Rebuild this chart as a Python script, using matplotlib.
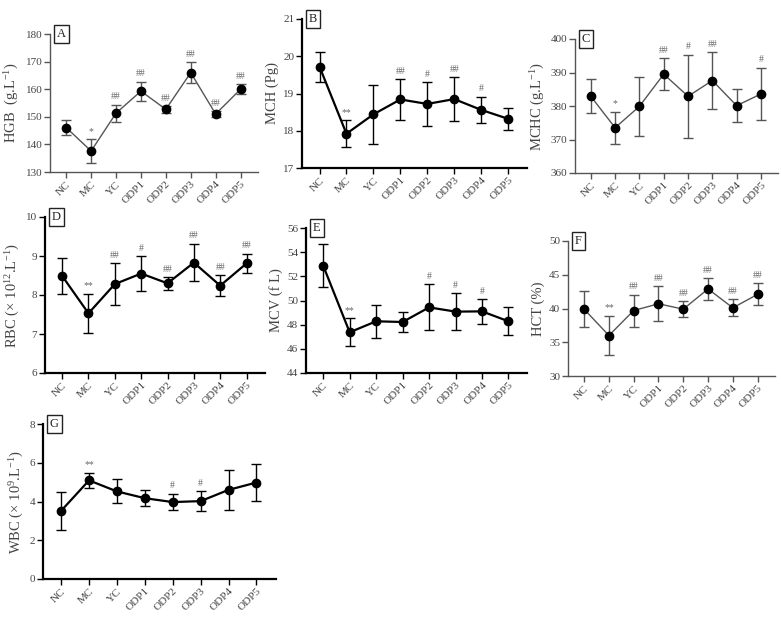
### Import Standard Libraries
import numpy as np
import matplotlib
matplotlib.use("Agg")
import matplotlib.pyplot as plt

### Fonts (Times-like serif)
plt.rcParams["font.family"] = ["Liberation Serif", "DejaVu Serif"]
plt.rcParams["mathtext.fontset"] = "custom"
plt.rcParams["mathtext.rm"] = "Liberation Serif"
plt.rcParams["mathtext.it"] = "Liberation Serif:italic"

## Step 1: Data

groups = ["NC", "MC", "YC", "ODP1", "ODP2", "ODP3", "ODP4", "ODP5"]

hgb_mean = [146.1, 137.6, 151.3, 159.3, 152.7, 166.0, 151.0, 160.0]
hgb_sd = [2.6, 4.3, 3.1, 3.4, 1.2, 3.8, 1.0, 1.8]
hgb_sig = ["", "*", "##", "##", "##", "##", "##", "##"]

mch_mean = [19.72, 17.92, 18.44, 18.84, 18.72, 18.85, 18.56, 18.32]
mch_sd = [0.40, 0.36, 0.80, 0.54, 0.58, 0.59, 0.35, 0.30]
mch_sig = ["", "**", "", "##", "#", "##", "#", ""]

mchc_mean = [382.9, 373.5, 379.9, 389.5, 382.9, 387.6, 380.1, 383.6]
mchc_sd = [5.1, 4.7, 8.8, 4.8, 12.4, 8.4, 5.0, 7.8]
mchc_sig = ["", "*", "", "##", "#", "##", "", "#"]

rbc_mean = [8.49, 7.53, 8.28, 8.55, 8.30, 8.83, 8.24, 8.81]
rbc_sd = [0.46, 0.50, 0.53, 0.45, 0.16, 0.48, 0.27, 0.25]
rbc_sig = ["", "**", "##", "#", "##", "##", "##", "##"]

mcv_mean = [52.88, 47.37, 48.28, 48.22, 49.43, 49.08, 49.10, 48.28]
mcv_sd = [1.78, 1.15, 1.38, 0.86, 1.90, 1.50, 1.02, 1.16]
mcv_sig = ["", "**", "", "", "#", "#", "#", ""]

hct_mean = [39.9, 36.0, 39.7, 40.7, 39.9, 42.9, 40.1, 42.1]
hct_sd = [2.67, 2.90, 2.37, 2.57, 1.16, 1.60, 1.24, 1.65]
hct_sig = ["", "**", "##", "##", "##", "##", "##", "##"]

wbc_mean = [3.52, 5.09, 4.52, 4.17, 3.97, 4.02, 4.60, 4.98]
wbc_sd = [0.97, 0.39, 0.62, 0.40, 0.43, 0.52, 1.02, 0.94]
wbc_sig = ["", "**", "", "", "#", "#", "", ""]

## Step 2: Figure layout (pixel boxes: left, top, right, bottom)

W, H = 781, 621
fig = plt.figure(figsize=(W / 100, H / 100), dpi=100)
fig.patch.set_facecolor("white")


def draw_panel(box, letter, mean, sd, sig, ylim, yticks, ylabel, dark):
    l, t, r, b = box
    ax = fig.add_axes([l / W, (H - b) / H, (r - l) / W, (b - t) / H])
    col = "black" if dark else "#555555"
    lw = 1.6 if dark else 1.0
    x = np.arange(len(groups))
    ax.errorbar(x, mean, yerr=sd, color=col, ecolor=col, lw=lw,
                elinewidth=1.0, capsize=3.5, capthick=1.0,
                marker="o", ms=6, mfc="black", mec="black", zorder=3)
    for i, s in enumerate(sig):
        if s:
            ax.annotate(s, (x[i], mean[i] + sd[i]), xytext=(0, 2.5),
                        textcoords="offset points", ha="center", va="bottom",
                        fontsize=7, color="#666666")
    ax.set_xlim(-0.65, 7.7)
    ax.set_ylim(*ylim)
    ax.set_yticks(yticks)
    ax.set_xticks(x)
    ax.set_xticklabels(groups, rotation=45, ha="right", rotation_mode="anchor",
                       fontsize=8, color="#444444")
    for lab in ax.get_yticklabels():
        lab.set_fontsize(8)
        lab.set_color("#444444")
    ax.spines["top"].set_visible(False)
    ax.spines["right"].set_visible(False)
    for sp in ["left", "bottom"]:
        ax.spines[sp].set_color(col)
        ax.spines[sp].set_linewidth(lw)
    ax.tick_params(direction="out", length=4, width=1.0, color=col, pad=1.5)
    ax.set_ylabel(ylabel, fontsize=10.5, color="#444444", labelpad=3)
    ax.annotate(letter, (0, 1), xycoords="axes fraction", xytext=(5, 0),
                textcoords="offset points", ha="left", va="center",
                fontsize=9, color="#222222",
                bbox=dict(boxstyle="square,pad=0.25", fc="white",
                          ec="#222222", lw=1.0))
    return ax


## Step 3: Draw the seven panels
draw_panel((50, 34, 258, 172), "A", hgb_mean, hgb_sd, hgb_sig,
           (130, 180), range(130, 181, 10), "HGB  (g.L$^{-1}$)", False)
draw_panel((302, 19, 527, 168), "B", mch_mean, mch_sd, mch_sig,
           (17, 21), range(17, 22), "MCH (Pg)", True)
draw_panel((575, 39, 778, 173), "C", mchc_mean, mchc_sd, mchc_sig,
           (360, 400), range(360, 401, 10), "MCHC (g.L$^{-1}$)", False)
draw_panel((45, 217, 265, 373), "D", rbc_mean, rbc_sd, rbc_sig,
           (6, 10), range(6, 11), "RBC (× 10$^{12}$.L$^{-1}$)", True)
draw_panel((306, 228, 527, 373), "E", mcv_mean, mcv_sd, mcv_sig,
           (44, 56), range(44, 57, 2), "MCV (f L)", True)
draw_panel((568, 241, 775, 376), "F", hct_mean, hct_sd, hct_sig,
           (30, 50), range(30, 51, 5), "HCT (%)", False)
draw_panel((43, 424, 276, 579), "G", wbc_mean, wbc_sd, wbc_sig,
           (0, 8), range(0, 9, 2), "WBC (× 10$^{9}$.L$^{-1}$)", True)

### Save to figure file
plt.savefig("out.png", dpi=100)
